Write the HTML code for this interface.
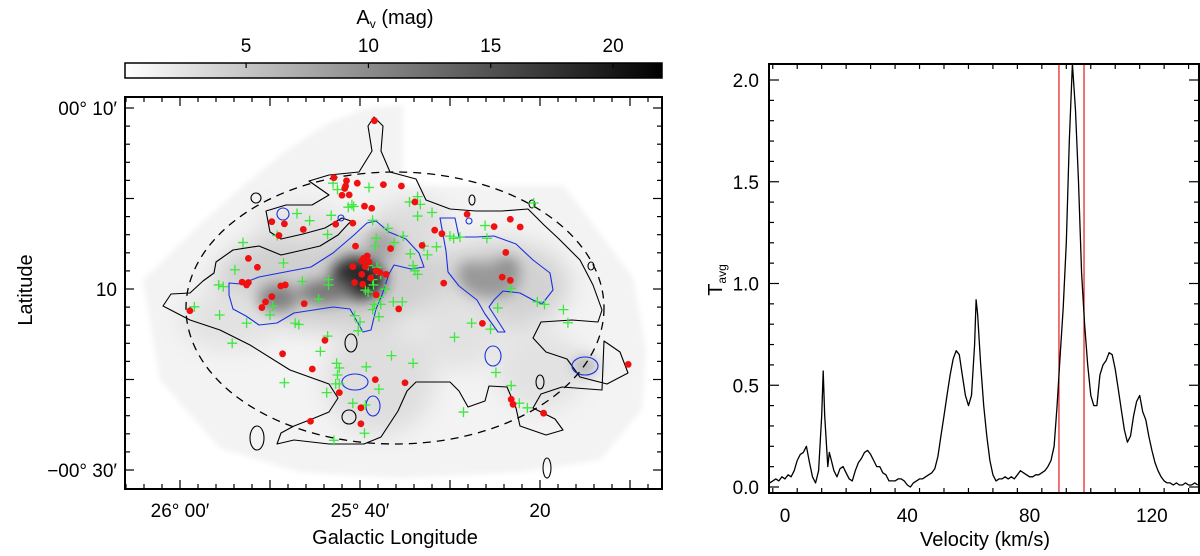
<!DOCTYPE html>
<html><head><meta charset="utf-8"><style>
html,body{margin:0;padding:0;background:#fff;}
svg{display:block;font-family:"Liberation Sans",sans-serif;}
</style></head><body>
<svg id="fig" width="1200" height="556" viewBox="0 0 1200 556">
<defs>
<filter id="blur8" x="-50%" y="-50%" width="200%" height="200%"><feGaussianBlur stdDeviation="7"/></filter>
<filter id="blur14" x="-50%" y="-50%" width="200%" height="200%"><feGaussianBlur stdDeviation="12"/></filter>
<filter id="blur4"><feGaussianBlur stdDeviation="3"/></filter>
<linearGradient id="cbg" x1="0" x2="1" y1="0" y2="0"><stop offset="0" stop-color="#fff"/><stop offset="1" stop-color="#000"/></linearGradient>
<clipPath id="mapclip"><rect x="125" y="97" width="537" height="392"/></clipPath>
<clipPath id="specclip"><rect x="769" y="64" width="430" height="429"/></clipPath>
</defs>

<g>
<rect x="125" y="63" width="537" height="15" fill="url(#cbg)" stroke="#000" stroke-width="1.5"/>
<g id="cbticks"></g>
<text x="395" y="24" font-size="20" text-anchor="middle">A<tspan font-size="12" dy="4">v</tspan><tspan dy="-4"> (mag)</tspan></text>
</g>

<g clip-path="url(#mapclip)">
<g filter="url(#blur4)">
<polygon points="143,280 204,221 243,186 286,151 329,123 368,108 403,105 403,186 455,186 564,186 633,278 646,349 642,409 600,460 520,472 400,478 300,472 220,448 160,380" fill="#f3f3f3"/>
</g>
<g filter="url(#blur14)">
<ellipse cx="330" cy="280" rx="115" ry="50" fill="#cfcfcf"/>
<ellipse cx="495" cy="285" rx="75" ry="45" fill="#d2d2d2"/>
<ellipse cx="380" cy="380" rx="55" ry="55" fill="#dedede"/>
<ellipse cx="540" cy="370" rx="45" ry="40" fill="#e2e2e2"/>
<ellipse cx="230" cy="320" rx="50" ry="30" fill="#e2e2e2"/>
<ellipse cx="460" cy="330" rx="40" ry="40" fill="#e2e2e2"/>
<ellipse cx="300" cy="225" rx="45" ry="20" fill="#e2e2e2"/>
<ellipse cx="410" cy="225" rx="40" ry="25" fill="#dcdcdc"/>
</g>
<g filter="url(#blur8)">
<ellipse cx="358" cy="278" rx="28" ry="22" fill="#2a2a2a"/>
<ellipse cx="325" cy="292" rx="26" ry="12" fill="#777"/>
<ellipse cx="473" cy="276" rx="14" ry="13" fill="#555"/>
<ellipse cx="505" cy="272" rx="14" ry="13" fill="#555"/>
<ellipse cx="490" cy="280" rx="30" ry="18" fill="#999"/>
<ellipse cx="278" cy="298" rx="20" ry="14" fill="#808080"/>
<ellipse cx="382" cy="245" rx="16" ry="16" fill="#a5a5a5"/>
<ellipse cx="585" cy="366" rx="12" ry="9" fill="#aaa"/>
</g>
<path fill="none" stroke="#000" stroke-width="1.1" stroke-linejoin="round" d="M163,306 L171,294 190,293 203,281 214,273 216,262 233,250 259,246 281,255 303,250 320,246 338,235 351,221 342,218 325,228 303,234 281,239 270,232 266,211 286,205 312,205 329,195 309,181 329,175 359,172 372,151 368,126 374,117 383,126 381,151 390,172 416,179 426,200 450,209 476,211 502,211 528,209 544,225 559,239 580,260 593,285 602,310 598,322 572,320 541,322 533,338 546,352 567,359 580,377 607,384 628,373 620,352 604,341 602,390 562,387 541,394 533,408 555,419 563,430 546,435 520,426 516,408 507,387 489,386 485,401 468,407 459,391 450,382 416,382 407,391 398,411 381,437 364,444 329,444 294,440 277,444 281,433 294,426 312,419 329,412 338,398 329,384 290,370 250,345 220,330 190,320 Z"/>
<path fill="none" stroke="#1a2fe0" stroke-width="1.1" stroke-linejoin="round" d="M229,283 L241,284 259,277 285,272 311,267 333,253 354,235 367,223 376,221 389,232 406,239 419,253 424,267 411,269 394,265 389,274 382,295 376,309 371,330 363,332 350,309 333,307 320,309 294,313 277,323 259,325 246,316 233,309 229,295 Z"/>
<path fill="none" stroke="#1a2fe0" stroke-width="1.1" stroke-linejoin="round" d="M440,218 L455,218 459,237 476,237 494,236 516,244 533,260 550,273 553,290 542,304 533,300 520,293 503,291 494,300 489,307 505,332 498,332 485,314 477,300 459,286 448,272 446,251 Z"/>
<g fill="none" stroke="#1a2fe0" stroke-width="1.1">
<circle cx="283" cy="214" r="6"/><ellipse cx="585" cy="366" rx="13" ry="9"/><ellipse cx="493" cy="356" rx="8" ry="10"/>
<ellipse cx="355" cy="382" rx="13" ry="8"/><ellipse cx="373" cy="406" rx="7" ry="10"/><circle cx="341" cy="218" r="3"/><circle cx="469" cy="221" r="3"/>
</g>
<g fill="none" stroke="#000" stroke-width="1.1">
<circle cx="256" cy="198" r="5"/><ellipse cx="472" cy="200" rx="3" ry="5"/><ellipse cx="532" cy="204" rx="3" ry="4"/>
<ellipse cx="591" cy="266" rx="3" ry="4"/><ellipse cx="351" cy="343" rx="6" ry="9"/><circle cx="349" cy="417" r="7"/>
<ellipse cx="547" cy="468" rx="4" ry="10"/><ellipse cx="257" cy="438" rx="7" ry="12"/><ellipse cx="540" cy="382" rx="4" ry="7"/>
</g>
<ellipse cx="395" cy="308" rx="209" ry="136" fill="none" stroke="#000" stroke-width="1.3" stroke-dasharray="8,6"/>
<g id="crosses"></g>
<g id="dots"></g>
</g>
<rect x="125" y="97" width="537" height="392" fill="none" stroke="#000" stroke-width="2"/>
<g id="mapaxes"></g>
<text x="395" y="544" font-size="20" text-anchor="middle">Galactic Longitude</text>
<text transform="translate(32,290) rotate(-90)" font-size="20" text-anchor="middle">Latitude</text>

<g id="spec"></g>
<rect x="769" y="64" width="430" height="429" fill="none" stroke="#000" stroke-width="2"/>
<text x="985" y="546" font-size="20" text-anchor="middle">Velocity (km/s)</text>
<text transform="translate(722,280) rotate(-90)" font-size="20" text-anchor="middle">T<tspan font-size="12" dy="4">avg</tspan></text>
</svg>
<script>
const cbTicks = [5, 10, 15, 20];
const cbRange = [0.05, 22.0];
const dotLon = [21.6,17.1,18.5,18.4,19.7,22.6,24.6,18.3,18.0,18.8,26.1,20.5,21.3,10.2,11.6,17.3,19.2,13.7,11.0,31.9,34.9,36.7,37.8,29.1,28.3,19.5,23.4,26.9,36.2,7.6,8.6,20.8,20.4,20.2,21.0,19.2,20.6,22.2,22.9,20.2,21.2,21.8,19.4,20.3,6.9,7.4,7.6,11.2,11.7,10.2,9.5,9.1,13.8,21.8,24.3,29.3,35.8,36.7,1.1,33.6,16.1,11.4,14.7,49.8,21.7,25.0,17.7,36.8,37.0,20.1,40.4,14.5,20.1];
const dotLat = [8.6,2.3,1.96,1.38,1.69,1.53,1.38,1.11,0.36,0.40,-0.38,-0.85,-1.08,-2.56,-2.80,-2.84,-2.72,-3.42,-4.09,-1.74,-3.11,-2.29,-3.15,-3.89,-3.50,-5.26,-5.53,-5.18,-5.96,-6.62,-7.60,-6.35,-6.62,-6.90,-7.01,-7.52,-7.52,-8.18,-8.38,-8.38,-8.77,-7.99,-9.28,-9.47,-9.24,-9.55,-9.28,-9.67,-9.55,-10.84,-11.42,-12.05,-11.62,-10.64,-12.20,-9.35,-8.69,-9.04,-12.40,-13.80,-15.68,-17.16,-18.84,-18.33,-20.01,-20.36,-21.45,-22.19,-22.74,-23.13,-23.72,-24.61,-24.89];
const crossLon = [17.0,17.5,21.0,26.4,25.5,26.7,19.1,19.3,18.7,13.0,14.4,16.8,26.4,28.0,21.4,23.1,24.8,21.8,21.7,23.8,25.6,27.1,28.5,27.5,30.0,30.4,33.9,34.1,31.1,16.4,10.8,7.0,6.1,4.3,4.8,11.5,20.9,21.9,22.3,21.4,21.5,20.6,20.9,22.8,22.1,21.6,22.3,21.4,22.1,16.5,16.5,15.4,19.4,20.0,19.8,23.7,24.7,36.8,39.7,40.5,42.6,43.1,35.3,32.4,34.5,30.5,26.1,26.4,25.9,13.6,10.3,10.0,7.4,4.4,1.6,5.8,15.6,16.4,23.5,25.9,35.1,36.8,17.4,17.7,17.5,11.6,17.3,17.7,16.3,20.7,22.1,19.2,20.6,37.7,38.6,31.5,20.5,17.1,12.8,13.2,39.3];
const crossLat = [1.69,0.99,1.22,0.21,-0.38,-0.65,-0.69,-0.88,-0.96,-1.66,-2.45,-1.86,-1.94,-1.55,-2.41,-3.30,-4.16,-4.40,-5.26,-4.87,-6.11,-5.26,-5.34,-6.23,-4.16,-4.40,-2.99,-4.40,-4.28,-3.97,-4.09,-4.87,-7.87,-9.55,-9.74,-7.13,-7.40,-7.60,-8.38,-8.96,-9.55,-10.13,-10.33,-10.02,-10.92,-11.70,-11.70,-12.28,-13.06,-9.55,-8.96,-11.11,-12.94,-13.65,-14.62,-11.42,-11.42,-9.94,-11.42,-11.70,-12.28,-13.73,-12.09,-13.77,-14.43,-15.33,-7.99,-8.38,-7.40,-9.16,-11.89,-12.87,-13.77,-12.87,-11.97,-15.99,-16.89,-15.21,-17.36,-18.21,-19.23,-20.67,-18.21,-18.72,-19.50,-20.36,-20.48,-20.48,-21.45,-18.60,-21.06,-22.62,-22.82,-22.62,-23.13,-23.60,-25.94,-26.72,-13.77,-13.92,-0.50];
const lonTickLabels = ["26° 00′", "25° 40′", "20"];
const lonTickVals = [0, 20, 40];
const latTickLabels = ["00° 10′", "10", "−00° 30′"];
const latTickVals = [10, -10, -30];
const velocity = [-5,-4,-3,-2,-1,0,1,2,3,4,5,6,7,8,9,10,11,12,12.5,13,14,14.5,15,16,17,18,19,20,21,22,23,24,25,26,27,28,29,30,31,32,33,34,35,36,37,38,39,40,41,42,43,44,45,46,47,48,49,50,51,52,53,54,55,56,57,58,59,60,61,62,62.5,63,64,65,66,67,68,69,70,71,72,73,74,75,76,77,78,79,80,81,82,83,84,85,86,87,88,89,90,91,92,93,94,95,96,97,98,99,100,101,102,103,104,105,106,107,108,109,110,111,112,113,114,115,116,117,118,119,120,121,122,123,124,125,126,127,128,129,130,131,132,133,134,135];
const tavg = [0.02,0.03,0.04,0.03,0.05,0.04,0.06,0.05,0.08,0.13,0.16,0.17,0.2,0.12,0.05,0.02,0.08,0.35,0.57,0.35,0.1,0.17,0.14,0.08,0.05,0.09,0.1,0.07,0.04,0.03,0.08,0.12,0.14,0.17,0.18,0.16,0.13,0.1,0.1,0.07,0.06,0.03,0.03,0.03,0.04,0.04,0.03,0.01,0.0,0.02,0.03,0.04,0.04,0.05,0.06,0.07,0.09,0.15,0.25,0.35,0.45,0.55,0.63,0.67,0.65,0.55,0.45,0.4,0.45,0.7,0.92,0.85,0.6,0.4,0.25,0.13,0.06,0.03,0.04,0.04,0.05,0.04,0.05,0.04,0.06,0.08,0.07,0.06,0.05,0.05,0.06,0.06,0.07,0.08,0.1,0.13,0.2,0.4,0.65,0.88,1.2,1.7,2.08,1.85,1.5,1.05,0.8,0.6,0.45,0.4,0.4,0.55,0.6,0.62,0.66,0.65,0.58,0.48,0.38,0.28,0.22,0.25,0.35,0.42,0.45,0.37,0.33,0.25,0.18,0.12,0.08,0.05,0.03,0.02,0.02,0.01,0.02,0.01,0.01,0.02,0.01,0.01,0.02,0.01,0.01];
const redLines = [89.6, 97.8];
const velTicks = [0, 40, 80, 120];
const tTicks = [0.0, 0.5, 1.0, 1.5, 2.0];

const NS = "http://www.w3.org/2000/svg";
function mk(tag, attrs, parent){const e=document.createElementNS(NS,tag);for(const k in attrs)e.setAttribute(k,attrs[k]);parent.appendChild(e);return e;}
const cbX = v => 125 + (v - cbRange[0]) / (cbRange[1] - cbRange[0]) * 537;
const mapX = dl => 180 + dl * 9;
const mapY = b => 108 + (10 - b) * 9.05;
const vX = v => 785 + v * 3.0575;
const tY = t => 487 - t * 203.5;

const cbg = document.getElementById('cbticks');
cbTicks.forEach(v => {
  const x = cbX(v);
  const l = mk('line', {x1:x, x2:x, y1:63, y2:68, stroke:'#000', 'stroke-width':1.2}, cbg);
  
  
  const t = mk('text', {x:x, y:52, 'font-size':19, 'text-anchor':'middle'}, cbg);
  t.textContent = String(v);
  
  
});

const ma = document.getElementById('mapaxes');
for (let dl = -6; dl <= 54; dl += 2) {
  const x = mapX(dl); if (x < 126 || x > 661) continue;
  const len = (dl % 10 === 0) ? 9 : 5;
  mk('line', {x1:x, x2:x, y1:489, y2:489-len, stroke:'#000', 'stroke-width':1.2}, ma);
  mk('line', {x1:x, x2:x, y1:97, y2:97+len, stroke:'#000', 'stroke-width':1.2}, ma);
}
for (let b = 12; b >= -32; b -= 2) {
  const y = mapY(b); if (y < 98 || y > 488) continue;
  const len = (b % 10 === 0) ? 9 : 5;
  mk('line', {x1:125, x2:125+len, y1:y, y2:y, stroke:'#000', 'stroke-width':1.2}, ma);
  mk('line', {x1:662, x2:662-len, y1:y, y2:y, stroke:'#000', 'stroke-width':1.2}, ma);
}
lonTickVals.forEach((v, i) => {
  const t = mk('text', {x:mapX(v), y:517, 'font-size':19, 'text-anchor':'middle'}, ma);
  t.textContent = lonTickLabels[i];
  
  
});
latTickVals.forEach((v, i) => {
  const t = mk('text', {x:117, y:mapY(v)+7, 'font-size':19, 'text-anchor':'end'}, ma);
  t.textContent = latTickLabels[i];
  
  
});

const cg = document.getElementById('crosses');
crossLon.forEach((dl, i) => {
  const x = mapX(dl), y = mapY(crossLat[i]);
  const p = mk('path', {d:`M${x-5},${y}H${x+5}M${x},${y-5}V${y+5}`, stroke:'#3de83d', 'stroke-width':1.3, fill:'none'}, cg);
  
  
});
const dg = document.getElementById('dots');
dotLon.forEach((dl, i) => {
  const c = mk('circle', {cx:mapX(dl), cy:mapY(dotLat[i]), r:3.4, fill:'#f01010'}, dg);
  
  
});

const sg = document.getElementById('spec');
for (let v = -4; v <= 134; v += 8) {
  const x = vX(v); const len = (v % 40 === 0) ? 10 : 5;
  mk('line', {x1:x, x2:x, y1:493, y2:493-len, stroke:'#000', 'stroke-width':1.2}, sg);
  mk('line', {x1:x, x2:x, y1:64, y2:64+len, stroke:'#000', 'stroke-width':1.2}, sg);
}
for (let k = 0; k <= 20; k++) {
  const y = tY(k / 10); if (y < 65) continue;
  const len = (k % 5 === 0) ? 10 : 5;
  mk('line', {x1:769, x2:769+len, y1:y, y2:y, stroke:'#000', 'stroke-width':1.2}, sg);
  mk('line', {x1:1199, x2:1199-len, y1:y, y2:y, stroke:'#000', 'stroke-width':1.2}, sg);
}
velTicks.forEach(v => {
  const t = mk('text', {x:vX(v), y:522, 'font-size':19, 'text-anchor':'middle'}, sg);
  t.textContent = String(v);
  
  
});
tTicks.forEach(v => {
  const t = mk('text', {x:759, y:tY(v)+7, 'font-size':19, 'text-anchor':'end'}, sg);
  t.textContent = v.toFixed(1);
  
  
});
const clipG = mk('g', {'clip-path':'url(#specclip)'}, sg);
redLines.forEach(v => {
  const l = mk('line', {x1:vX(v), x2:vX(v), y1:64, y2:493, stroke:'#e8161a', 'stroke-width':1.2}, clipG);
  
  
});
let d = '';
velocity.forEach((v, i) => { d += (i ? 'L' : 'M') + vX(v).toFixed(1) + ',' + tY(tavg[i]).toFixed(1); });
const sp = mk('path', {d:d, fill:'none', stroke:'#000', 'stroke-width':1.3, 'stroke-linejoin':'round'}, clipG);


</script>
</body></html>
